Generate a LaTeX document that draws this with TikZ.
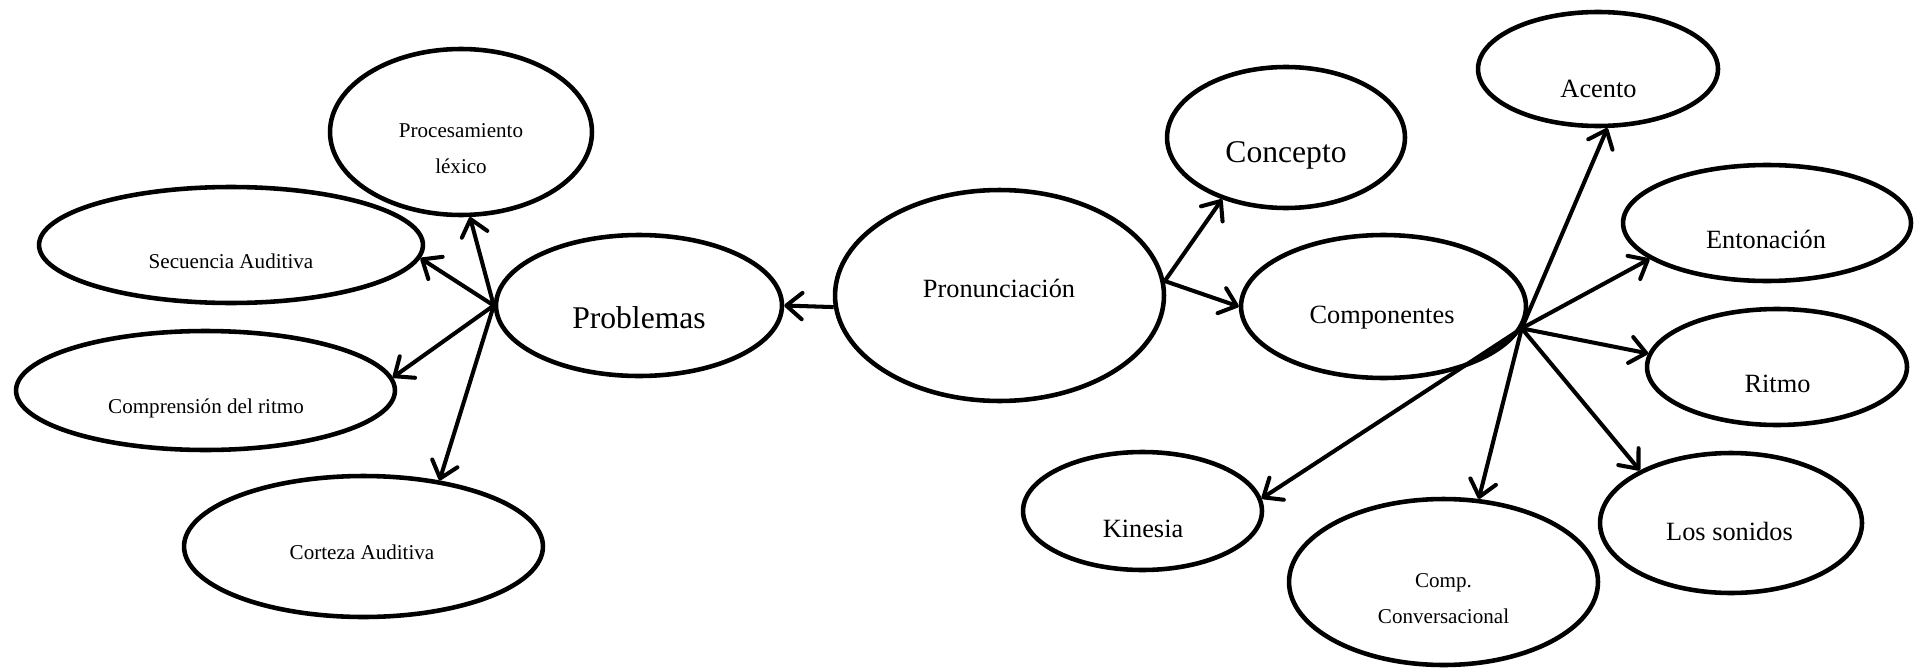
\documentclass[tikz,border=0pt]{standalone}
\usepackage{fontspec}
\setmainfont{Liberation Serif}
\usetikzlibrary{shapes.geometric,arrows.meta}

\tikzset{
  bubble/.style={ellipse, draw, line width=2.6pt, inner sep=0pt},
  lblsmall/.style={font=\fontsize{12}{20.4}\selectfont, anchor=base, align=center},
  lblmid/.style={font=\fontsize{15}{18}\selectfont, anchor=base},
  lblbig/.style={font=\fontsize{18}{22}\selectfont, anchor=base},
  link/.style={line width=2.3pt, ->},
  >={Straight Barb[round,length=9pt,width=15pt]}
}

\begin{document}
\begin{tikzpicture}[x=0.02cm, y=-0.02cm]
    \useasboundingbox (0,0) rectangle (1922,669);

    % problemas side
    \node [bubble, minimum width=5.24cm, minimum height=3.32cm] (proc) at (461,132) {};
    \node [bubble, minimum width=7.68cm, minimum height=2.32cm] (secu) at (231,245) {};
    \node [bubble, minimum width=7.58cm, minimum height=2.38cm] (compr) at (205.5,390.5) {};
    \node [bubble, minimum width=7.18cm, minimum height=2.82cm] (cort) at (363.5,546.5) {};
    \node [bubble, minimum width=5.72cm, minimum height=2.82cm] (prob) at (639,305.5) {};

    \node [lblsmall] (proct) at (461,173) {Procesamiento\\léxico};
    \node [lblsmall] (secut) at (231,268) {Secuencia Auditiva};
    \node [lblsmall] (comprt) at (206,413) {Comprensión del ritmo};
    \node [lblsmall] (cortt) at (362,559) {Corteza Auditiva};
    \node [lblbig] (probt) at (639,328) {Problemas};

    % centre
    \node [bubble, minimum width=6.58cm, minimum height=4.22cm] (pron) at (999.5,295.5) {};
    \node [bubble, minimum width=4.76cm, minimum height=2.82cm] (conc) at (1286,137.5) {};
    \node [bubble, minimum width=5.70cm, minimum height=2.86cm] (comp) at (1383.5,306.5) {};

    \node [lblmid] (pront) at (999,297) {Pronunciación};
    \node [lblbig] (conct) at (1286,162) {Concepto};
    \node [lblmid] (compt) at (1382,323) {Componentes};

    % componentes side
    \node [bubble, minimum width=4.80cm, minimum height=2.28cm] (acen) at (1598,69) {};
    \node [bubble, minimum width=5.76cm, minimum height=2.32cm] (ento) at (1767,223) {};
    \node [bubble, minimum width=5.20cm, minimum height=2.32cm] (ritm) at (1777,367) {};
    \node [bubble, minimum width=5.24cm, minimum height=2.80cm] (soni) at (1731,523) {};
    \node [bubble, minimum width=6.18cm, minimum height=3.32cm] (conv) at (1443.5,582) {};
    \node [bubble, minimum width=4.78cm, minimum height=2.36cm] (kine) at (1142.5,511) {};

    \node [lblmid] (acent) at (1598.5,97) {Acento};
    \node [lblmid] (entot) at (1766,248) {Entonación};
    \node [lblmid] (ritmt) at (1777.5,392) {Ritmo};
    \node [lblmid] (sonit) at (1729.5,540) {Los sonidos};
    \node [lblsmall] (convt) at (1443.5,623) {Comp.\\Conversacional};
    \node [lblmid] (kinet) at (1143,537) {Kinesia};

    % arrows
    \draw [link] (pron.184) -- (prob.east);
    \draw [link] (pron.5) -- (conc.224);
    \draw [link] (pron.5) -- (comp.west);

    \draw [link] (prob.west) -- (proc.-84);
    \draw [link] (prob.west) -- (secu.-4);
    \draw [link] (prob.west) -- (compr.4);
    \draw [link] (prob.west) -- (cort.41);

    \draw [link] (comp.-9) -- (acen.-81);
    \draw [link] (comp.-9) -- (ento.197.6);
    \draw [link] (comp.-9) -- (ritm.174);
    \draw [link] (comp.-9) -- (soni.150);
    \draw [link] (comp.-9) -- (conv.67);
    \draw [link] (comp.-9) -- (kine.6.5);

\end{tikzpicture}
\end{document}
